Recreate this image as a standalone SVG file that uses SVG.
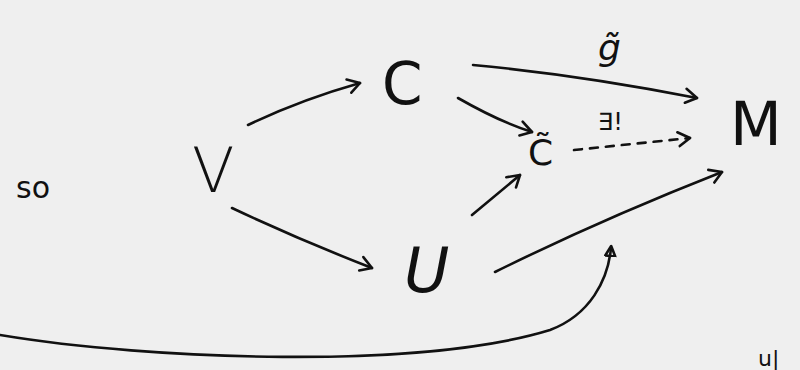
<svg xmlns="http://www.w3.org/2000/svg" width="800" height="370" viewBox="0 0 800 370">
<defs>
<marker id="ah" markerWidth="20" markerHeight="20" refX="14" refY="8" orient="auto" markerUnits="userSpaceOnUse" viewBox="0 0 20 16">
<path d="M2,1 L14,8 L3,15" fill="none" stroke="#111" stroke-width="2.6" stroke-linecap="round" stroke-linejoin="round"/>
</marker>
<marker id="ah2" markerWidth="16" markerHeight="16" refX="9" refY="7" orient="auto" markerUnits="userSpaceOnUse" viewBox="0 0 16 14">
<path d="M1,2 L11,7 L1,12 Z" fill="none" stroke="#111" stroke-width="2.6" stroke-linejoin="round"/>
</marker>
</defs>
<style>
.t{font-family:"DejaVu Sans","Liberation Sans",sans-serif;fill:#111;}
.e{fill:none;stroke:#111;stroke-width:2.6;stroke-linecap:round;}
</style>
<rect width="800" height="370" fill="#efefef"/>
<g id="edges">
<path class="e" d="M248,125 Q300,100 360,83" marker-end="url(#ah)"/>
<path class="e" d="M232,208 Q300,240 372,268" marker-end="url(#ah)"/>
<path class="e" d="M473,65 Q580,75 697,98" marker-end="url(#ah)"/>
<path class="e" d="M458,98 Q500,122 532,132" marker-end="url(#ah)"/>
<path class="e" d="M574,150 L690,138" stroke-dasharray="8,8" marker-end="url(#ah)"/>
<path class="e" d="M472,215 L520,175" marker-end="url(#ah)"/>
<path class="e" d="M495,272 Q600,220 722,172" marker-end="url(#ah)"/>
<path class="e" d="M0,335 C150,360 420,370 550,330 C590,315 608,280 611,248" marker-end="url(#ah2)"/>
</g>
<g id="so"><text class="t" x="16" y="198" font-size="30">so</text></g>
<g id="V"><text class="t" x="192" y="192" font-size="62" font-weight="300">V</text></g>
<g id="C"><text class="t" x="382" y="104" font-size="58">C</text></g>
<g id="U"><text class="t" x="404" y="292" font-size="62" font-family="Liberation Serif" font-style="italic">U</text></g>
<g id="Ctilde"><text class="t" x="528" y="165" font-size="36">C̃</text></g>
<g id="M"><text class="t" x="730" y="145" font-size="60">M</text></g>
<g id="gtilde"><text class="t" x="598" y="60" font-size="36" font-style="italic">g̃</text></g>
<g id="exists"><text class="t" x="598" y="130" font-size="24">∃!</text></g>
<g id="ul"><text class="t" x="758" y="366" font-size="22">u|</text></g>
</svg>
